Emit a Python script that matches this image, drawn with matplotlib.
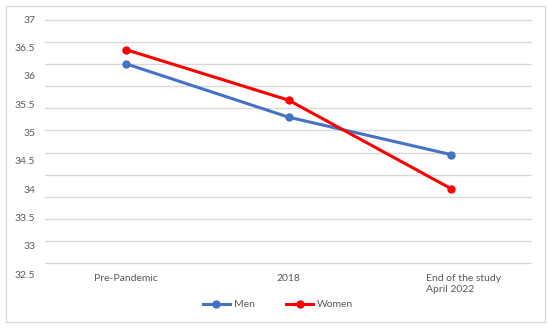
import matplotlib
matplotlib.use("Agg")
import matplotlib.pyplot as plt
import matplotlib.transforms as mtransforms
import numpy as np
from matplotlib.patches import Rectangle

categories = ["Pre-Pandemic", "2018", "End of the study\nApril 2022"]
men = [36.21, 35.27, 34.61]
women = [36.46, 35.57, 34.01]
ytick_vals = [37, 36.5, 36, 35.5, 35, 34.5, 34, 33.5, 33, 32.5]
ytick_labels = ["37", "36.5", "36", "35.5", "35", "34.5", "34", "33.5", "33", "32.5"]

plt.rcParams['font.family'] = ['Lato', 'DejaVu Sans']
W, H = 550, 328
fig = plt.figure(figsize=(W / 100, H / 100), dpi=100)

# outer border
fig.patches.append(Rectangle((6 / W, 1 - 322 / H), 539 / W, 316 / H, transform=fig.transFigure,
                             fill=False, edgecolor="#D9D9D9", linewidth=1.0))

top_px, bot_px = 19.1, 274.1
ax = fig.add_axes([45 / W, 1 - bot_px / H, (532 - 45) / W, (bot_px - top_px) / H])
ax.set_xlim(-0.5, 2.5)
ax.set_ylim(32.5, 37.0)

x = np.arange(len(categories))
ax.plot(x, men, color="#4472C4", lw=2.2, marker="o", ms=5, label="Men", zorder=3)
ax.plot(x, women, color="#FF0000", lw=2.2, marker="o", ms=5, label="Women", zorder=3)

ax.set_yticks(ytick_vals)
ax.set_yticklabels(ytick_labels)
ax.set_xticks(x)
ax.set_xticklabels(categories)
# gridlines (as minor ticks) spanning the plotting area
px_grid = np.linspace(20, 263, 12)
grid_vals = 37.0 - (px_grid - top_px) / ((bot_px - top_px) / 4.5)
ax.set_yticks(grid_vals, minor=True)
ax.yaxis.grid(True, which="minor", color="#D9D9D9", lw=1.0)
ax.yaxis.grid(False, which="major")
ax.tick_params(axis="y", which="both", length=0, labelsize=7.5, labelcolor="#595959", pad=7)
ax.tick_params(axis="x", length=0, labelsize=7.5, labelcolor="#595959", pad=0)
for s in ax.spines.values():
    s.set_visible(False)
ax.set_axisbelow(True)

labs = ax.get_xticklabels()
for lab in labs:
    lab.set_ha("center")
    lab.set_multialignment("left")
labs[2].set_transform(labs[2].get_transform() +
                      mtransforms.ScaledTranslation(13 / 100, 0, fig.dpi_scale_trans))

leg = fig.legend(loc="center", bbox_to_anchor=(278 / W, 1 - 304.5 / H), ncol=2, frameon=False,
                 fontsize=7.5, labelcolor="#595959", handlelength=2.6, columnspacing=3.0,
                 handletextpad=0.4)

fig.savefig("out.png", dpi=100)
